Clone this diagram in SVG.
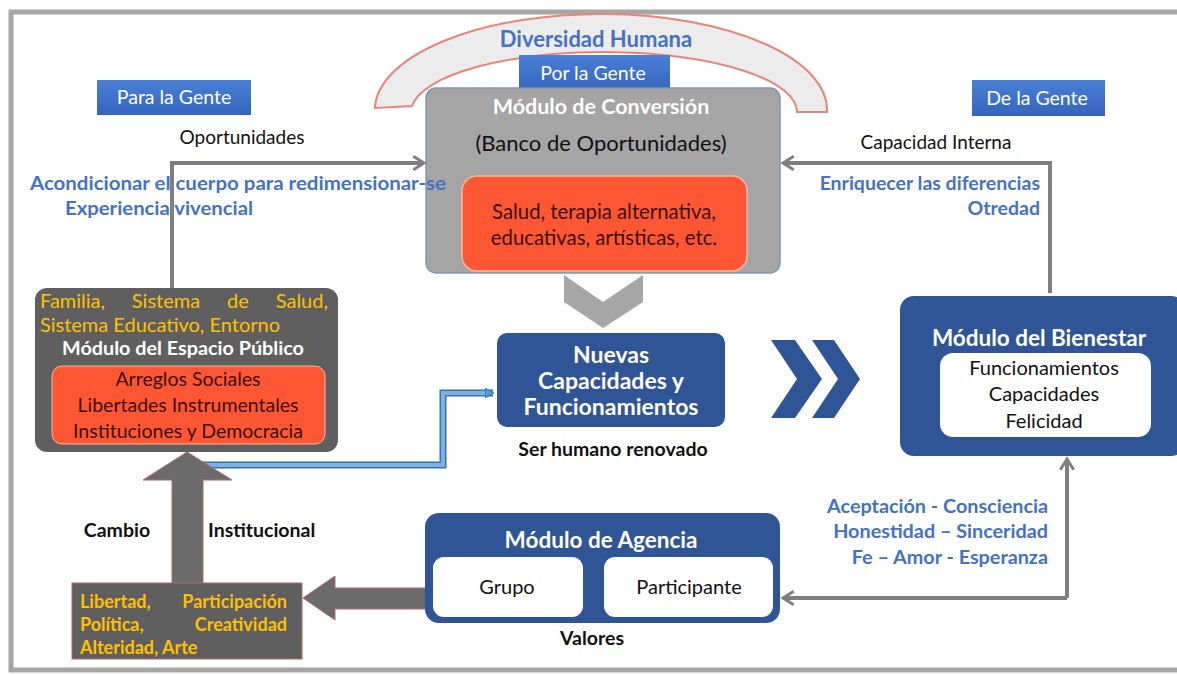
<svg xmlns="http://www.w3.org/2000/svg" width="1177" height="675" viewBox="0 0 1177 675">
<defs>
<style>
text{font-family:Lato,"Open Sans","Liberation Sans",sans-serif}
.b{font-weight:bold}
.blue{fill:#4472c4}
.yel{fill:#ffc000}
.wh{fill:#ffffff}
.blk{fill:#111111}
.dk{fill:#3b0d00}
.mod{fill:#2f5597}
.conn{fill:none;stroke:#7f7f7f;stroke-width:4}
</style>
<marker id="ah" viewBox="0 0 12 12" refX="10" refY="6" markerWidth="4" markerHeight="4" orient="auto" markerUnits="strokeWidth">
<polyline points="2,1 10,6 2,11" fill="none" stroke="#7f7f7f" stroke-width="2.2"/>
</marker>
<marker id="bah" viewBox="0 0 10 10" refX="8" refY="5" markerWidth="2.4" markerHeight="2.6" orient="auto" markerUnits="strokeWidth">
<path d="M0,0 L9,5 L0,10 Z" fill="#5b9bd5" stroke="#2e75b6" stroke-width="1"/>
</marker>
<linearGradient id="pg" x1="0" y1="0" x2="0" y2="1">
<stop offset="0" stop-color="#4a7fd6"/><stop offset="1" stop-color="#3565bd"/>
</linearGradient>
</defs>
<rect width="1177" height="675" fill="#ffffff"/>
<g id="frame" fill="none" stroke="#a6a6a6" stroke-width="5">
<line x1="9" y1="12" x2="1177" y2="12"/>
<line x1="11" y1="10" x2="11" y2="672"/>
<line x1="9" y1="670" x2="1177" y2="670"/>
</g>
<g id="diversidad">
<path d="M375,108 A226,96 0 0 1 827,112 L797,112 A193,60 0 0 0 412,106 Z" fill="#ececec" stroke="#e8857a" stroke-width="2"/>
<text x="596" y="47" text-anchor="middle" class="b blue" font-size="22">Diversidad  Humana</text>
</g>
<g id="modulo-conversion">
<rect x="519" y="55" width="151" height="35" fill="url(#pg)"/>
<text x="593" y="80" text-anchor="middle" class="wh" font-size="19.5">Por la Gente</text>
<rect x="426" y="88" width="354" height="185" rx="10" fill="#a5a5a5" stroke="#8497b0" stroke-width="1.5"/>
<text x="601" y="114" text-anchor="middle" class="b wh" font-size="21.5">Módulo  de Conversión</text>
<text x="601" y="151" text-anchor="middle" class="blk" font-size="22">(Banco  de Oportunidades)</text>
<rect x="462" y="176" width="285" height="95" rx="15" fill="#ff5733" stroke="#f7b7a3" stroke-width="1.5"/>
<text x="604" y="219" text-anchor="middle" class="dk" font-size="20.3">Salud, terapia alternativa,</text>
<text x="604" y="245" text-anchor="middle" class="dk" font-size="20.3">educativas, artísticas, etc.</text>
</g>
<g id="para-la-gente">
<rect x="97" y="80" width="154" height="35" fill="url(#pg)"/>
<text x="174" y="104" text-anchor="middle" class="wh" font-size="19.5">Para la Gente</text>
</g>
<g id="de-la-gente">
<rect x="972" y="80" width="133" height="36" fill="url(#pg)"/>
<text x="1037" y="105" text-anchor="middle" class="wh" font-size="19.5">De la Gente</text>
</g>
<g id="labels-left">
<text x="242" y="144" text-anchor="middle" class="blk" font-size="19">Oportunidades</text>
<text x="30" y="190" class="b blue" font-size="19" textLength="416" lengthAdjust="spacingAndGlyphs">Acondicionar el cuerpo para redimensionar-se</text>
<text x="65" y="215" class="b blue" font-size="19" textLength="188" lengthAdjust="spacingAndGlyphs">Experiencia vivencial</text>
</g>
<g id="labels-right">
<text x="936" y="149" text-anchor="middle" class="blk" font-size="19">Capacidad  Interna</text>
<text x="1040" y="190" text-anchor="end" class="b blue" font-size="19.5">Enriquecer las diferencias</text>
<text x="1040" y="215" text-anchor="end" class="b blue" font-size="19.5">Otredad</text>
</g>
<g id="connectors">
<polyline class="conn" points="172,290 172,163 424,163" marker-end="url(#ah)"/>
<polyline class="conn" points="1050,293 1050,163 783,163" marker-end="url(#ah)"/>
<polyline class="conn" points="1067,598 1067,459" marker-end="url(#ah)"/>
<polyline class="conn" points="1067,598 783,598" marker-end="url(#ah)"/>
<polyline points="203,465 443,465 443,393 493,393" fill="none" stroke="#2e75b6" stroke-width="7" stroke-linejoin="miter"/>
<polyline points="203,465 443,465 443,393 493,393" fill="none" stroke="#7fb0e0" stroke-width="4" stroke-linejoin="miter" marker-end="url(#bah)"/>
<polygon points="172,585 172,480 143,480 187,452 232,480 203,480 203,585" fill="#6b6b6b" stroke="#b46a6a" stroke-width="1"/>
<polygon points="428,588 335,588 335,576 303,598 335,620 335,609 428,609" fill="#6b6b6b" stroke="#b46a6a" stroke-width="1"/>
<polygon points="564,275 564,302 603,328 643,302 643,275 603,302" fill="#a6a6a6"/>
<polygon points="771,340 795,340 822,379 795,418 771,418 797,379" class="mod"/>
<polygon points="812,340 834,340 860,379 834,418 812,418 838,379" class="mod"/>
</g>
<g id="modulo-espacio-publico">
<rect x="35" y="288" width="303" height="164" rx="12" fill="#5f5f5f"/>
<text x="40" y="308" class="yel" font-size="20">Familia,</text>
<text x="166" y="308" text-anchor="middle" class="yel" font-size="20">Sistema</text>
<text x="238" y="308" text-anchor="middle" class="yel" font-size="20">de</text>
<text x="328" y="308" text-anchor="end" class="yel" font-size="20">Salud,</text>
<text x="40" y="332" class="yel" font-size="20" textLength="240">Sistema Educativo, Entorno</text>
<text x="183" y="355" text-anchor="middle" class="b wh" font-size="19.8">Módulo del Espacio Público</text>
<rect x="52" y="366" width="273" height="78" rx="10" fill="#ff5733" stroke="#f7b7a3" stroke-width="1"/>
<text x="188" y="386" text-anchor="middle" class="dk" font-size="19.5">Arreglos Sociales</text>
<text x="188" y="412" text-anchor="middle" class="dk" font-size="19.5">Libertades  Instrumentales</text>
<text x="188" y="438" text-anchor="middle" class="dk" font-size="19.5">Instituciones y Democracia</text>
</g>
<g id="cambio-institucional">
<text x="117" y="537" text-anchor="middle" class="b blk" font-size="19.5">Cambio</text>
<text x="208" y="537" class="b blk" font-size="19.5">Institucional</text>
</g>
<g id="libertad">
<rect x="72" y="583" width="230" height="76" fill="#5f5f5f" stroke="#b46a6a" stroke-width="1"/>
<text x="80" y="608" class="b yel" font-size="18">Libertad,</text>
<text x="287" y="608" text-anchor="end" class="b yel" font-size="18">Participación</text>
<text x="80" y="631" class="b yel" font-size="18">Política,</text>
<text x="287" y="631" text-anchor="end" class="b yel" font-size="18">Creatividad</text>
<text x="80" y="654" class="b yel" font-size="18">Alteridad, Arte</text>
</g>
<g id="nuevas-capacidades">
<rect x="497" y="333" width="228" height="94" rx="10" class="mod"/>
<text x="611" y="363" text-anchor="middle" class="b wh" font-size="23">Nuevas</text>
<text x="611" y="389" text-anchor="middle" class="b wh" font-size="23">Capacidades  y</text>
<text x="611" y="415" text-anchor="middle" class="b wh" font-size="23">Funcionamientos</text>
<text x="613" y="456" text-anchor="middle" class="b blk" font-size="19.5">Ser humano  renovado</text>
</g>
<g id="modulo-bienestar">
<rect x="900" y="296" width="285" height="160" rx="14" class="mod"/>
<text x="1039" y="346" text-anchor="middle" class="b wh" font-size="22.5">Módulo  del Bienestar</text>
<rect x="940" y="353" width="211" height="84" rx="13" fill="#ffffff"/>
<text x="1044" y="375" text-anchor="middle" class="blk" font-size="20">Funcionamientos</text>
<text x="1044" y="401" text-anchor="middle" class="blk" font-size="20">Capacidades</text>
<text x="1044" y="428" text-anchor="middle" class="blk" font-size="20">Felicidad</text>
</g>
<g id="modulo-agencia">
<rect x="425" y="513" width="355" height="110" rx="14" class="mod"/>
<text x="601" y="548" text-anchor="middle" class="b wh" font-size="22.5">Módulo  de Agencia</text>
<rect x="433" y="557" width="150" height="60" rx="11" fill="#ffffff"/>
<rect x="604" y="557" width="169" height="60" rx="11" fill="#ffffff"/>
<text x="507" y="594" text-anchor="middle" class="blk" font-size="20">Grupo</text>
<text x="689" y="594" text-anchor="middle" class="blk" font-size="20">Participante</text>
<text x="592" y="645" text-anchor="middle" class="b blk" font-size="19.5">Valores</text>
</g>
<g id="valores-labels">
<text x="1048" y="513" text-anchor="end" class="b blue" font-size="19.8">Aceptación - Consciencia</text>
<text x="1048" y="538" text-anchor="end" class="b blue" font-size="19.8">Honestidad – Sinceridad</text>
<text x="1048" y="564" text-anchor="end" class="b blue" font-size="19.8">Fe – Amor - Esperanza</text>
</g>
</svg>
